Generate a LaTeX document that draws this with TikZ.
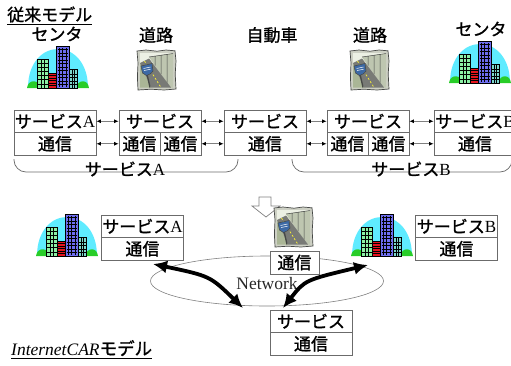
\documentclass[tikz,border=0pt]{standalone}
\usepackage{fontspec}
\setmainfont{Liberation Serif}
\newfontfamily\jp[FakeBold=1.3]{Noto Sans CJK JP}
\usetikzlibrary{arrows.meta,shapes.geometric,calc}

\definecolor{boxline}{gray}{0.42}
\definecolor{skycyan}{RGB}{95,235,255}
\definecolor{grass}{RGB}{40,205,40}
\definecolor{bldgreen}{RGB}{140,240,165}
\definecolor{bldred}{RGB}{230,20,30}
\definecolor{bldblue}{RGB}{110,110,240}
\definecolor{bldteal}{RGB}{125,215,205}
\definecolor{roadframe}{RGB}{205,208,196}
\definecolor{roadsky}{RGB}{236,240,228}
\definecolor{roadwall}{RGB}{190,198,176}
\definecolor{roadgray}{RGB}{120,122,118}
\definecolor{roadground}{RGB}{170,182,150}
\definecolor{roaddark}{RGB}{70,72,70}
\definecolor{signblue}{RGB}{60,105,165}

\tikzset{
  jptext/.style={inner sep=0pt, font=\fontsize{17}{17}\selectfont\jp},
  cell/.style={draw=boxline, line width=0.8pt, fill=white, minimum width=82pt,
    minimum height=22.5pt, inner sep=0pt, font=\fontsize{17}{17}\selectfont\jp},
  halfcell/.style={cell, minimum width=41pt},
  link/.style={draw=gray, line width=0.8pt,
    {Latex[length=4.5pt,width=4pt,color=black]}-{Latex[length=4.5pt,width=4pt,color=black]}},
  brace/.style={draw=boxline, line width=0.7pt, rounded corners=12pt},
  bigarr/.style={line width=3.8pt,
    {Latex[length=14pt,width=13pt]}-{Latex[length=14pt,width=13pt]}},
  uline/.style={line width=0.8pt},
  % office buildings under a sky dome; origin = bottom left of the dome
  building/.pic={
    \fill[skycyan] (0,0) .. controls (0,-52) and (60,-52) .. (60,0) -- cycle;
    \fill[grass] (-1,0) .. controls (0,-9) and (11,-9) .. (13,0) -- cycle;
    \fill[grass] (48,0) .. controls (50,-9) and (60,-9) .. (61,0) -- cycle;
    % light green block
    \fill[bldgreen] (9,0) rectangle (20,-29);
    \foreach \y in {-4.2,-8.4,...,-26} \draw[line width=0.4pt] (9,\y) -- (20,\y);
    \draw[line width=0.4pt] (12.7,0) -- (12.7,-29) (16.3,0) -- (16.3,-29);
    \draw[line width=0.8pt] (9,0) rectangle (20,-29);
    % red block
    \fill[bldred] (20,0) rectangle (29,-15);
    \foreach \y in {-2.5,-5,...,-13} \draw[line width=0.5pt] (20,\y) -- (29,\y);
    \draw[line width=0.8pt] (20,0) rectangle (29,-15);
    % tall blue tower
    \fill[bldblue] (28,0) rectangle (41,-42);
    \foreach \y in {-3.5,-7,...,-40} \draw[line width=0.4pt] (29.5,\y) -- (39.5,\y);
    \foreach \x in {31.3,34.5,37.7} \draw[line width=0.4pt] (\x,-1.5) -- (\x,-40.5);
    \draw[line width=0.8pt] (28,0) rectangle (41,-42);
    \draw[line width=1.4pt] (41.5,0) -- (41.5,-41.5);
    % teal block
    \fill[bldteal] (41,0) rectangle (49,-19);
    \foreach \y in {-3.5,-7,...,-17} \draw[line width=0.4pt] (41,\y) -- (49,\y);
    \draw[line width=0.4pt] (43.7,0) -- (43.7,-19) (46.3,0) -- (46.3,-19);
    \draw[line width=0.8pt] (41,0) rectangle (49,-19);
  },
  % road picture; origin = top left corner
  road/.pic={
    \fill[roadframe] (0,1) -- (9,0) -- (20,1.2) -- (29,0) -- (38,0.8) -- (39,11)
      -- (38.2,24) -- (39,39) -- (27,40) -- (14,39.2) -- (1,40) -- (0.4,27)
      -- (1,13) -- cycle;
    \fill[roadsky] (3,3) rectangle (36,13);
    \fill[roadwall] (12,7) -- (36,3.5) -- (36,37.5) -- (33,37.5) -- cycle;
    \draw[roaddark, line width=0.5pt] (18,6.1) -- (18,15.6) (24,5.25) -- (24,24.1)
      (30,4.4) -- (30,32.7) (12,7) -- (36,3.5);
    \fill[roadground] (3,13) -- (14,37.5) -- (3,37.5) -- cycle;
    \fill[roadgray] (3,13) -- (12,8.5) -- (34,37.5) -- (14,37.5) -- cycle;
    \draw[yellow!80!white, line width=0.7pt, dash pattern=on 2pt off 2pt]
      (7.5,11) -- (24,37.5);
    \draw[roaddark, line width=1.3pt] (10,24) -- (13,37.5);
    \fill[signblue, draw=roaddark, line width=0.5pt] (4,16) -- (15,13.5)
      -- (16,21) .. controls (14,24) and (11,25) .. (9.5,25.5) -- (5.5,23) -- cycle;
    \draw[white, line width=0.5pt] (6.5,18.5) -- (13.5,17) (7,20.5) -- (13.5,19.2);
    \draw[roaddark, line width=0.7pt] (0,1) -- (9,0) -- (20,1.2) -- (29,0) -- (38,0.8)
      -- (39,11) -- (38.2,24) -- (39,39) -- (27,40) -- (14,39.2) -- (1,40)
      -- (0.4,27) -- (1,13) -- cycle;
  }
}

\begin{document}
\begin{tikzpicture}[x=1pt,y=-1pt]
\useasboundingbox (0,0) rectangle (511,365);

% ---------- conventional model ----------
\node[jptext, anchor=base west] (title1) at (7,21) {従来モデル};
\draw[uline] ([yshift=-3pt]title1.base west) -- ([yshift=-3pt]title1.base east);

\node[jptext] (lc1) at (57,34) {センタ};
\node[jptext] (lr1) at (156,35) {道路};
\node[jptext] (lcar) at (272,35) {自動車};
\node[jptext] (lr2) at (370,35) {道路};
\node[jptext] (lc2) at (481,29) {センタ};

\pic at (28,88) {building};
\pic at (137,50) {road};
\pic at (350,50) {road};
\pic at (450,83) {building};

% protocol stacks
\node[cell] (s1) at (55,121.25) {サービス{\rmfamily A}};
\node[cell] (c1) at (55,143.75) {通信};
\node[cell] (s2) at (160,121.25) {サービス};
\node[halfcell] (c2a) at (139.5,143.75) {通信};
\node[halfcell] (c2b) at (180.5,143.75) {通信};
\node[cell] (s3) at (265,121.25) {サービス};
\node[cell] (c3) at (265,143.75) {通信};
\node[cell] (s4) at (368,121.25) {サービス};
\node[halfcell] (c4a) at (347.5,143.75) {通信};
\node[halfcell] (c4b) at (388.5,143.75) {通信};
\node[cell] (s5) at (475,121.25) {サービス{\rmfamily B}};
\node[cell] (c5) at (475,143.75) {通信};

\draw[link] (s1) -- (s2);
\draw[link] (c1) -- (c2a);
\draw[link] (s2) -- (s3);
\draw[link] (c2b) -- (c3);
\draw[link] (s3) -- (s4);
\draw[link] (c3) -- (c4a);
\draw[link] (s4) -- (s5);
\draw[link] (c4b) -- (c5);

% service spans
\draw[brace] (14,159) -- (14,172) -- (238,172) -- (238,159);
\node[jptext] (spanA) at (125,169) {サービス{\rmfamily A}};
\draw[brace] (292,159) -- (292,172) -- (512,172) -- (512,159);
\node[jptext] (spanB) at (411,169) {サービス{\rmfamily B}};

% ---------- InternetCAR model ----------
\node[ellipse, draw=gray, line width=0.6pt, minimum width=233pt, minimum height=50pt,
  inner sep=0pt] (net) at (267,281) {};
\node[inner sep=0pt, font=\fontsize{17.5}{17.5}\selectfont, text=black!85] (nettxt)
  at (267,284) {Network};

\pic at (37,256) {building};
\pic at (352,256) {building};

\node[cell] (bsa) at (142.5,226.25) {サービス{\rmfamily A}};
\node[cell] (bca) at (142.5,248.75) {通信};
\node[cell] (bsb) at (456.5,226.25) {サービス{\rmfamily B}};
\node[cell] (bcb) at (456.5,248.75) {通信};

% car entering the network
\draw[gray, fill=white, line width=0.7pt] (259,197) -- (271,197) -- (271,206)
  -- (280,206) -- (266,217) -- (252,206) -- (259,206) -- cycle;
\pic at (274,207) {road};
\node[cell, minimum width=49pt, minimum height=23pt] (ccar) at (294.5,262.5) {通信};

\node[cell] (bss) at (311,321.25) {サービス};
\node[cell] (bsc) at (311,343.75) {通信};

\coordinate (la) at (153,264);
\coordinate (lb) at (243,308);
\coordinate (ra) at (368,265);
\coordinate (rb) at (283,308);
\draw[bigarr] (la) .. controls (210,276) .. (lb);
\draw[bigarr] (ra) .. controls (305,280) .. (rb);

\node[anchor=base west, inner sep=0pt, font=\fontsize{17.5}{17.5}\selectfont] (title2)
  at (11,355) {{\itshape InternetCAR}{\jp モデル}};
\draw[uline] ([yshift=-3pt]title2.base west) -- ([yshift=-3pt]title2.base east);
\end{tikzpicture}
\end{document}
